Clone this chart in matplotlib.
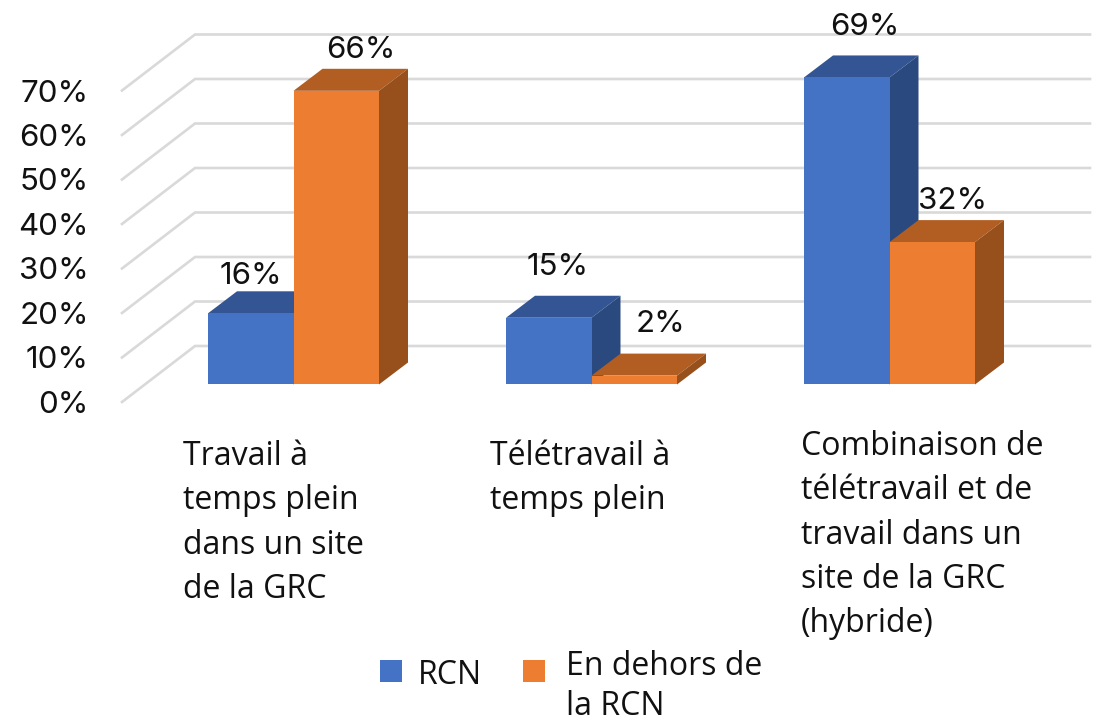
import matplotlib
matplotlib.use("Agg")
import matplotlib.pyplot as plt
from matplotlib.patches import Polygon, Rectangle

categories = ["Travail à\ntemps plein\ndans un site\nde la GRC",
              "Télétravail à\ntemps plein",
              "Combinaison de\ntélétravail et de\ntravail dans un\nsite de la GRC\n(hybride)"]
rcn = [16, 15, 69]
hors_rcn = [66, 2, 32]
rcn_labels = ["16%", "15%", "69%"]
hors_labels = ["66%", "2%", "32%"]
ticks = [0, 10, 20, 30, 40, 50, 60, 70]
tick_labels = ["0%", "10%", "20%", "30%", "40%", "50%", "60%", "70%"]
series_names = ["RCN", "En dehors de\nla RCN"]

W, H = 1097, 726
PX_X = 298.0    # px per category
PX_Y = 4.45     # px per percent
X0 = 293.5      # px of category 0 centre
Y0 = 384.5      # px of value 0 on the bar front

def dx(px):
    return px / PX_X

def dy(px):
    return px / PX_Y

fig = plt.figure(figsize=(W / 100, H / 100), dpi=100)
ax = fig.add_axes([0, 0, 1, 1])
ax.set_xlim(-X0 / PX_X, (W - X0) / PX_X)
ax.set_ylim((Y0 - H) / PX_Y, Y0 / PX_Y)
ax.axis("off")

# grid: slanted floor-side part then the back wall part
wall_left = dx(122 - X0)
wall_back = dx(195 - X0)
wall_right = dx(1090 - X0)
wall_y = dy(Y0 - 402)
for t, lab in zip(ticks, tick_labels):
    y = t + wall_y
    ax.plot([wall_left, wall_back, wall_right], [y, y + dy(56), y + dy(56)],
            color="#d9d9d9", lw=1.9, solid_joinstyle="miter", zorder=1)
    ax.text(dx(89 - X0), y - dy(3), lab, ha="right", va="center", fontsize=22.5,
            family="Inter", color="#111111")

bw = dx(85.5)
ddx, ddy = dx(29), dy(22)

def bar3d(x, v, front, top, side, z):
    ax.add_patch(Polygon([(x, v), (x + bw, v), (x + bw + ddx, v + ddy), (x + ddx, v + ddy)],
                         color=top, lw=0, zorder=z))
    ax.add_patch(Polygon([(x + bw, 0), (x + bw + ddx, ddy), (x + bw + ddx, v + ddy), (x + bw, v)],
                         color=side, lw=0, zorder=z))
    ax.add_patch(Rectangle((x, 0), bw, v, color=front, lw=0, zorder=z + 0.5))

for i in range(3):
    bar3d(i - bw, rcn[i], "#4472c4", "#335593", "#2a4a7f", 3)
    bar3d(i, hors_rcn[i], "#ed7d31", "#b25d21", "#97501c", 4)

# data labels, px offsets
rcn_off = [(251, 276), (558, 267), (865, 27)]
hors_off = [(361, 50), (661, 324), (953, 201)]
for (px, py), lab in zip(rcn_off, rcn_labels):
    ax.text(dx(px - X0), dy(Y0 - py), lab, ha="center", va="center", fontsize=22.5,
            family="Inter", color="#111111", zorder=6)
for (px, py), lab in zip(hors_off, hors_labels):
    ax.text(dx(px - X0), dy(Y0 - py), lab, ha="center", va="center", fontsize=22.5,
            family="Inter", color="#111111", zorder=6)

# category labels
cat_pos = [(183, 440), (490, 440), (801, 430)]
for (px, py), lab in zip(cat_pos, categories):
    ax.text(dx(px - X0), dy(Y0 - py), lab, ha="left", va="top", fontsize=23,
            family="Open Sans", color="#111111", linespacing=1.45)

# legend
ax.add_patch(Rectangle((dx(380 - X0), dy(Y0 - 682)), dx(22), dy(22), color="#4472c4", lw=0))
ax.add_patch(Rectangle((dx(523 - X0), dy(Y0 - 682)), dx(22), dy(22), color="#ed7d31", lw=0))
ax.text(dx(418 - X0), dy(Y0 - 675), series_names[0], ha="left", va="center", fontsize=23,
        family="Open Sans", color="#111111")
ax.text(dx(566 - X0), dy(Y0 - 650), series_names[1], ha="left", va="top", fontsize=23,
        family="Open Sans", color="#111111", linespacing=1.28)

fig.savefig("out.png", dpi=100)
